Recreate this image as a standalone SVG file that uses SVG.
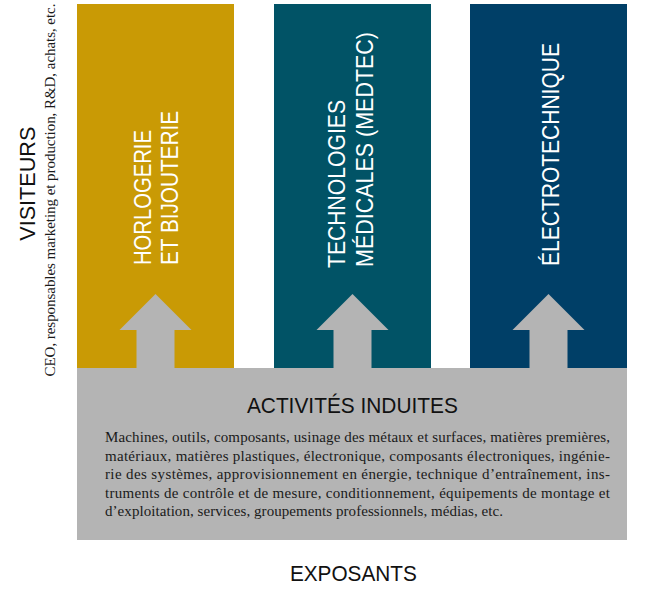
<svg xmlns="http://www.w3.org/2000/svg" width="651" height="600" viewBox="0 0 651 600">
<style>
.col{stroke:none}
.arrow{fill:#b4b4b4}
.lab{font-family:"Liberation Sans",Arial,sans-serif;fill:#ffffff;font-size:24px}
.head{font-family:"Liberation Sans",Arial,sans-serif;fill:#111111}
.body{font-family:"Liberation Serif","Times New Roman",serif;fill:#1a1a1a;font-size:15px}
</style>
<rect width="651" height="600" fill="#ffffff"/>
<g id="horlogerie">
<rect class="col" x="77" y="4" width="157" height="364" fill="#c99a05"/>
<text class="lab" transform="translate(151,265) rotate(-90)" textLength="135" lengthAdjust="spacingAndGlyphs">HORLOGERIE</text>
<text class="lab" transform="translate(178,265) rotate(-90)" textLength="154" lengthAdjust="spacingAndGlyphs">ET BIJOUTERIE</text>
</g>
<g id="medtec">
<rect class="col" x="274" y="4" width="157" height="364" fill="#015366"/>
<text class="lab" transform="translate(345,268) rotate(-90)" textLength="168" lengthAdjust="spacingAndGlyphs">TECHNOLOGIES</text>
<text class="lab" transform="translate(373,267) rotate(-90)" textLength="235" lengthAdjust="spacingAndGlyphs">MÉDICALES (MEDTEC)</text>
</g>
<g id="electrotechnique">
<rect class="col" x="470" y="4" width="157" height="364" fill="#003f67"/>
<text class="lab" transform="translate(559,266) rotate(-90)" textLength="223" lengthAdjust="spacingAndGlyphs">ÉLECTROTECHNIQUE</text>
</g>
<g id="connectors">
<polygon class="arrow" points="155.5,294 191.5,330 174.5,330 174.5,369 136.5,369 136.5,330 119.5,330"/>
<polygon class="arrow" points="352.5,294 388.5,330 371.5,330 371.5,369 333.5,369 333.5,330 316.5,330"/>
<polygon class="arrow" points="548.5,294 584.5,330 567.5,330 567.5,369 529.5,369 529.5,330 512.5,330"/>
</g>
<g id="activites">
<rect x="77" y="368" width="550" height="172" fill="#b4b4b4"/>
<text class="head" x="352.4" y="413.3" font-size="21.4" text-anchor="middle" textLength="211" lengthAdjust="spacingAndGlyphs">ACTIVITÉS INDUITES</text>
<text class="body" x="105" y="442" textLength="505" lengthAdjust="spacing">Machines, outils, composants, usinage des métaux et surfaces, matières premières,</text>
<text class="body" x="105" y="460.5" textLength="505" lengthAdjust="spacing">matériaux, matières plastiques, électronique, composants électroniques, ingénie-</text>
<text class="body" x="105" y="479" textLength="505" lengthAdjust="spacing">rie des systèmes, approvisionnement en énergie, technique d’entraînement, ins-</text>
<text class="body" x="105" y="497.5" textLength="505" lengthAdjust="spacing">truments de contrôle et de mesure, conditionnement, équipements de montage et</text>
<text class="body" x="105" y="516" textLength="398" lengthAdjust="spacing">d’exploitation, services, groupements professionnels, médias, etc.</text>
</g>
<g id="visiteurs">
<text class="head" transform="translate(35,183.7) rotate(-90)" font-size="21.5" text-anchor="middle" textLength="114" lengthAdjust="spacingAndGlyphs">VISITEURS</text>
<text class="body" transform="translate(54.5,190) rotate(-90)" font-size="14.5" text-anchor="middle" textLength="373" lengthAdjust="spacing">CEO, responsables marketing et production, R&amp;D, achats, etc.</text>
</g>
<g id="exposants">
<text class="head" x="353.4" y="580.7" font-size="22" text-anchor="middle" textLength="127" lengthAdjust="spacingAndGlyphs">EXPOSANTS</text>
</g>
</svg>
